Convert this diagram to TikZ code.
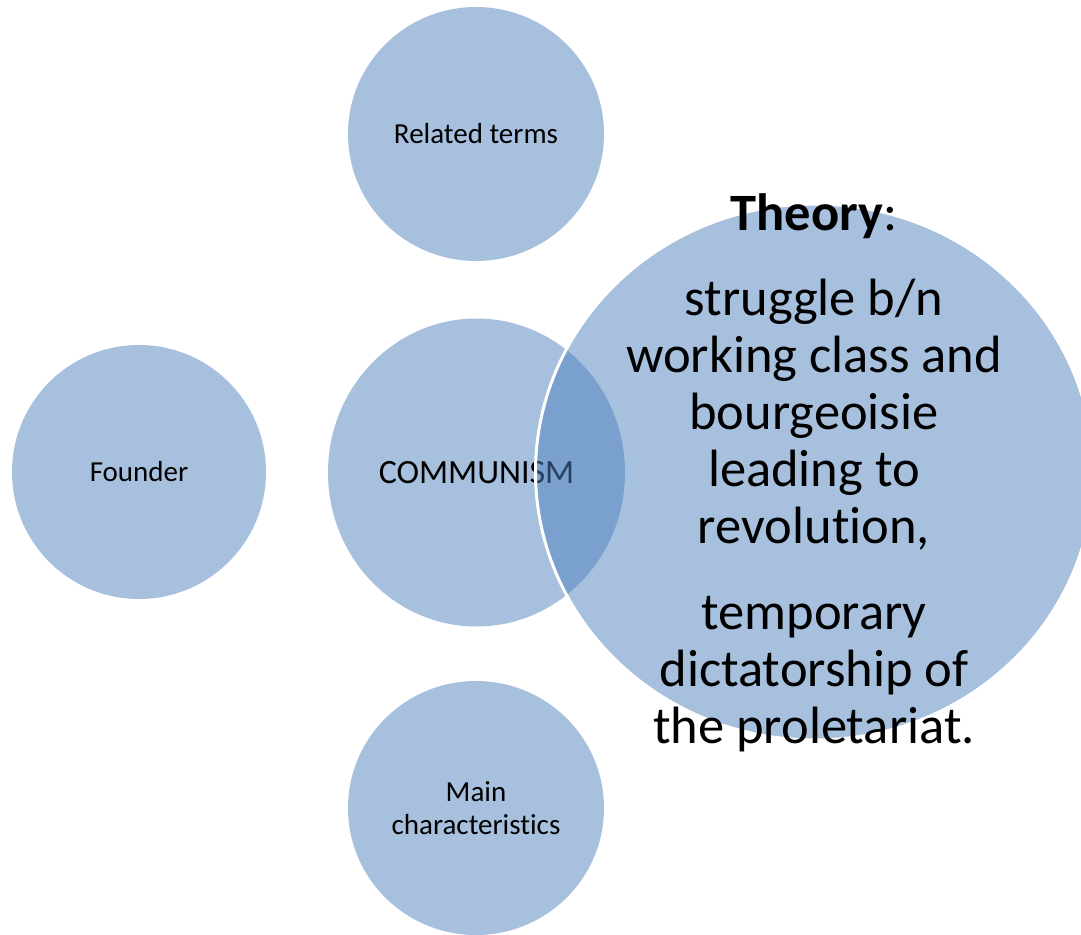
\documentclass[tikz,border=0pt]{standalone}
\usepackage{fontspec}
\setmainfont{Carlito}[Ligatures=NoCommon]
\usetikzlibrary{shapes.geometric}
\definecolor{accent}{HTML}{4F81BD}
\begin{document}
\begin{tikzpicture}[x=1pt,y=-1pt,
  bubble/.style={ellipse, fill=accent, fill opacity=0.5, text opacity=1, draw=none, inner sep=0pt, text=black},
  smalltext/.style={font=\fontsize{29}{33}\selectfont, align=center},
  bigline/.style={font=\fontsize{52.5}{57}\selectfont, text=black, anchor=base, inner sep=0pt}]
\useasboundingbox (0,0) rectangle (1081,934);
\node[bubble, smalltext, minimum width=256pt, minimum height=254pt] (related) at (476,134) {Related terms};
\node[bubble, smalltext, minimum width=254pt, minimum height=254pt] (founder) at (139,472) {Founder};
\node[bubble, smalltext, minimum width=256pt, minimum height=254pt] (mainchar) at (476,808) {Main\\characteristics};
\node[bubble, font=\fontsize{34}{40}\selectfont, minimum width=297pt, minimum height=308pt] (communism) at (476.5,472.5) {COMMUNISM};
\node[ellipse, fill=accent, fill opacity=0.5, draw=white, line width=3pt, inner sep=0pt, minimum width=558pt, minimum height=536pt] (theory) at (814.5,472) {};
\node[bigline] (l1) at (814,230) {\textbf{Theory}:};
\node[bigline] (l2) at (814,315.5) {struggle b/n};
\node[bigline] (l3) at (814,372.5) {working class and};
\node[bigline] (l4) at (814,429.5) {bourgeoisie};
\node[bigline] (l5) at (814,486.5) {leading to};
\node[bigline] (l6) at (814,543.5) {revolution,};
\node[bigline] (l7) at (814,629) {temporary};
\node[bigline] (l8) at (814,686) {dictatorship of};
\node[bigline] (l9) at (814,743) {the proletariat.};
\end{tikzpicture}
\end{document}
